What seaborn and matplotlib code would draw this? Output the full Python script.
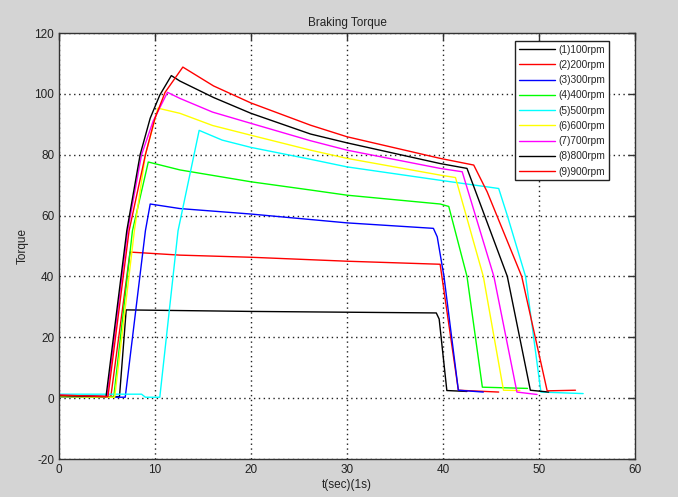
import matplotlib
matplotlib.use("Agg")
import matplotlib.pyplot as plt
import seaborn as sns
import pandas as pd
from matplotlib.lines import Line2D

labels = ["(1)100rpm", "(2)200rpm", "(3)300rpm", "(4)400rpm", "(5)500rpm",
          "(6)600rpm", "(7)700rpm", "(8)800rpm", "(9)900rpm"]
colors = ["#000000", "#ff0000", "#0000ff", "#00ff00", "#00ffff",
          "#ffff00", "#ff00ff", "#000000", "#ff0000"]

t1 = [0, 6.3, 7.0, 20, 39.3, 39.6, 40.4, 42.5]
v1 = [0.6, 0.5, 29, 28.5, 28, 26, 2.5, 2.2]

t2 = [0, 5.4, 7.4, 12.6, 20, 30, 39.7, 41.6, 45.8]
v2 = [0.8, 0.5, 48, 47, 46.3, 45, 44, 2.6, 2.0]

t3 = [0, 6.9, 9.0, 9.5, 12.6, 20, 26.2, 30, 39.0, 39.4, 40.1, 41.6, 44.2]
v3 = [0.4, 0.3, 55, 63.8, 62.3, 60.5, 58.7, 57.6, 55.8, 53, 40, 2.6, 2.0]

t4 = [0, 5.7, 7.65, 9.3, 12.6, 20, 26.2, 30, 39.7, 40.6, 42.5, 44.1, 48.8]
v4 = [0.5, 0.3, 55, 77.6, 75, 71.1, 68.4, 66.7, 63.8, 63, 40, 3.6, 3.2]

t5 = [0, 8.6, 9.0, 10.5, 12.4, 14.6, 17.0, 20, 26.2, 30, 39.7, 45.8, 46.7, 48.6, 50.2, 54.6]
v5 = [1.3, 1.3, 0.3, 0.3, 55, 88, 84.8, 82.4, 78.5, 76, 71.6, 68.9, 60, 40, 2.0, 1.5]

t6 = [0, 5.8, 7.85, 9.0, 10.3, 12.6, 16.0, 20, 26.2, 30, 39.7, 41.3, 44.2, 46.3, 48.0]
v6 = [0.5, 0.3, 55, 80, 95.3, 93.6, 89.6, 86.4, 81.5, 78.8, 73.3, 72.5, 40, 2.6, 2.5]

t7 = [0, 5.0, 7.15, 8.6, 9.8, 11.3, 12.6, 16.0, 20, 26.2, 30, 39.7, 42.0, 45.3, 47.7, 49.8]
v7 = [1.0, 0.5, 55, 80, 91, 100.5, 98.5, 94.0, 90.3, 84.6, 81.5, 75.5, 74.4, 40, 2.0, 1.2]

t8 = [0, 4.9, 7.06, 8.45, 9.5, 10.5, 11.7, 12.6, 16.1, 20, 26.2, 30, 39.7, 42.5, 46.7, 49.1, 51.0]
v8 = [0.8, 0.5, 55, 80, 92, 99.6, 106, 104.2, 98.8, 93.6, 86.8, 83.9, 77.1, 75.5, 40, 2.6, 2.0]

t9 = [0, 5.1, 7.3, 9.0, 10.0, 11.05, 12.9, 16.1, 20, 26.2, 30, 39.7, 43.2, 44.6, 48.2, 50.85, 53.8]
v9 = [1.0, 0.5, 55, 80, 92, 100.5, 108.8, 102.6, 97, 89.7, 85.9, 78.8, 76.6, 67.8, 40, 2.4, 2.6]

series_t = [t1, t2, t3, t4, t5, t6, t7, t8, t9]
series_v = [v1, v2, v3, v4, v5, v6, v7, v8, v9]

xticks = [0, 10, 20, 30, 40, 50, 60]
yticks = [-20, 0, 20, 40, 60, 80, 100, 120]

rows = []
for lab, ts, vs in zip(labels, series_t, series_v):
    for i, (t, v) in enumerate(zip(ts, vs)):
        rows.append({"t": t, "v": v, "series": lab, "order": i})
df = pd.DataFrame(rows)

sns.set_style("white")
plt.rcParams["font.family"] = ["Liberation Sans", "DejaVu Sans"]
plt.rcParams["axes.unicode_minus"] = False

fig = plt.figure(figsize=(6.78, 4.97), dpi=100, facecolor="#d4d4d4")
ax = fig.add_axes([59 / 678, 1 - 459 / 497, (635 - 59) / 678, (459 - 33) / 497])
ax.set_facecolor("white")

sns.lineplot(data=df, x="t", y="v", hue="series", hue_order=labels,
             palette=dict(zip(labels, colors)), sort=False, estimator=None,
             units="series", linewidth=1.0, ax=ax, legend=False)

ax.set_xlim(0, 60)
ax.set_ylim(-20, 120)
ax.set_xticks(xticks)
ax.set_yticks(yticks)
ax.grid(True, color="#222222", linestyle=(0, (1, 2.5)), linewidth=1.0)
ax.tick_params(direction="in", length=5, width=1, top=True, right=True,
               labelsize=8.5, colors="#333333", labelcolor="#222222")
for sp in ax.spines.values():
    sp.set_color("#333333")
    sp.set_linewidth(1.0)

ax.set_xlabel("t(sec)(1s)", fontsize=8.5, color="#222222", labelpad=2)
ax.set_ylabel("Torque", fontsize=8.5, color="#222222", labelpad=4)
ax.set_title("Braking Torque", fontsize=8.5, color="#222222", pad=5)

handles = [Line2D([0], [0], color=c, lw=1.0) for c in colors]
leg = ax.legend(handles, labels, loc="upper right",
                bbox_to_anchor=(609 / 678, 1 - 41 / 497),
                bbox_transform=fig.transFigure, fontsize=7.3, frameon=True,
                fancybox=False, framealpha=1, edgecolor="#222222",
                handlelength=3.6, labelspacing=0.52, borderpad=0.35,
                handletextpad=0.35, borderaxespad=0)
leg.get_frame().set_linewidth(1.0)

fig.savefig("out.png", dpi=100, facecolor=fig.get_facecolor())
